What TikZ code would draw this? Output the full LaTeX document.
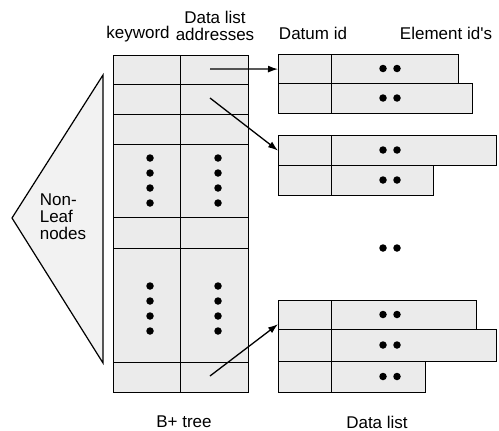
\documentclass[tikz,border=0pt]{standalone}
\usepackage{fontspec}
\setmainfont{Liberation Sans}
\usetikzlibrary{arrows.meta}

\tikzset{
  cell/.style={draw, fill=black!8, line width=1.2pt, inner sep=0pt, anchor=north west},
  dot/.style={circle, fill=black, inner sep=0pt, minimum size=7.5pt},
  lbl/.style={font=\fontsize{17}{17}\selectfont, align=center, inner sep=0pt},
  ptr/.style={line width=1.3pt, -{Latex[length=10pt,width=7pt]}},
}

\begin{document}
\begin{tikzpicture}[x=1pt, y=-1pt]
\useasboundingbox (0,0) rectangle (499,431);

% non-leaf part of the tree
\draw[line width=1.2pt, fill=black!5] (103,75) -- (12,218) -- (103,363) -- cycle;
\node[lbl, align=left] (nonleaf) at (63,217) {Non-\\Leaf\\nodes};

% leaf level: keyword / data list address
\foreach \r/\top/\h in {1/55/29, 2/84/30, 3/114/30, 4/144/73, 5/217/31, 6/248/114, 7/362/30} {
  \node (kw-\r) [cell, minimum width=67pt, minimum height=\h pt] at (113,\top) {};
  \node (dl-\r) [cell, minimum width=68pt, minimum height=\h pt] at (180,\top) {};
}
\foreach \y in {158,173,188,203,286,301,316,331} {
  \node[dot] (kw-dot-\y) at (150,\y) {};
  \node[dot] (dl-dot-\y) at (218,\y) {};
}

% data lists
\foreach \n/\top/\h/\w in {1-1/54/29/127, 1-2/83/30/141, 2-1/135/30/165, 2-2/165/30/102,
                           3-1/300/29/145, 3-2/329/32/165, 3-3/361/31/94} {
  \node (id-\n) [cell, minimum width=53pt, minimum height=\h pt] at (278,\top) {};
  \node (el-\n) [cell, minimum width=\w pt, minimum height=\h pt] at (331,\top) {};
  \node[dot] (el-\n-a) at (383,{\top+\h/2}) {};
  \node[dot] (el-\n-b) at (397,{\top+\h/2}) {};
}
\node[dot] (more-a) at (383,248) {};
\node[dot] (more-b) at (397,248) {};

% pointers
\coordinate (p1) at (210,69);
\coordinate (p2) at (210,98);
\coordinate (p3) at (210,376);
\draw[ptr] (p1) -- (id-1-1.west);
\draw[ptr] (p2) -- (id-2-1.west);
\draw[ptr] (p3) -- ([yshift=6pt]id-3-1.south west);

% headings
\node[lbl] (keyword) at (138,34) {keyword};
\node[lbl] (dladdr) at (215,26) {Data list\\addresses};
\node[lbl] (datumid) at (313,33) {Datum id};
\node[lbl] (elemid) at (446,33) {Element id\textquotesingle s};
\node[lbl] (bptree) at (184,422) {B+ tree};
\node[lbl] (datalist) at (377,422) {Data list};
\end{tikzpicture}
\end{document}
